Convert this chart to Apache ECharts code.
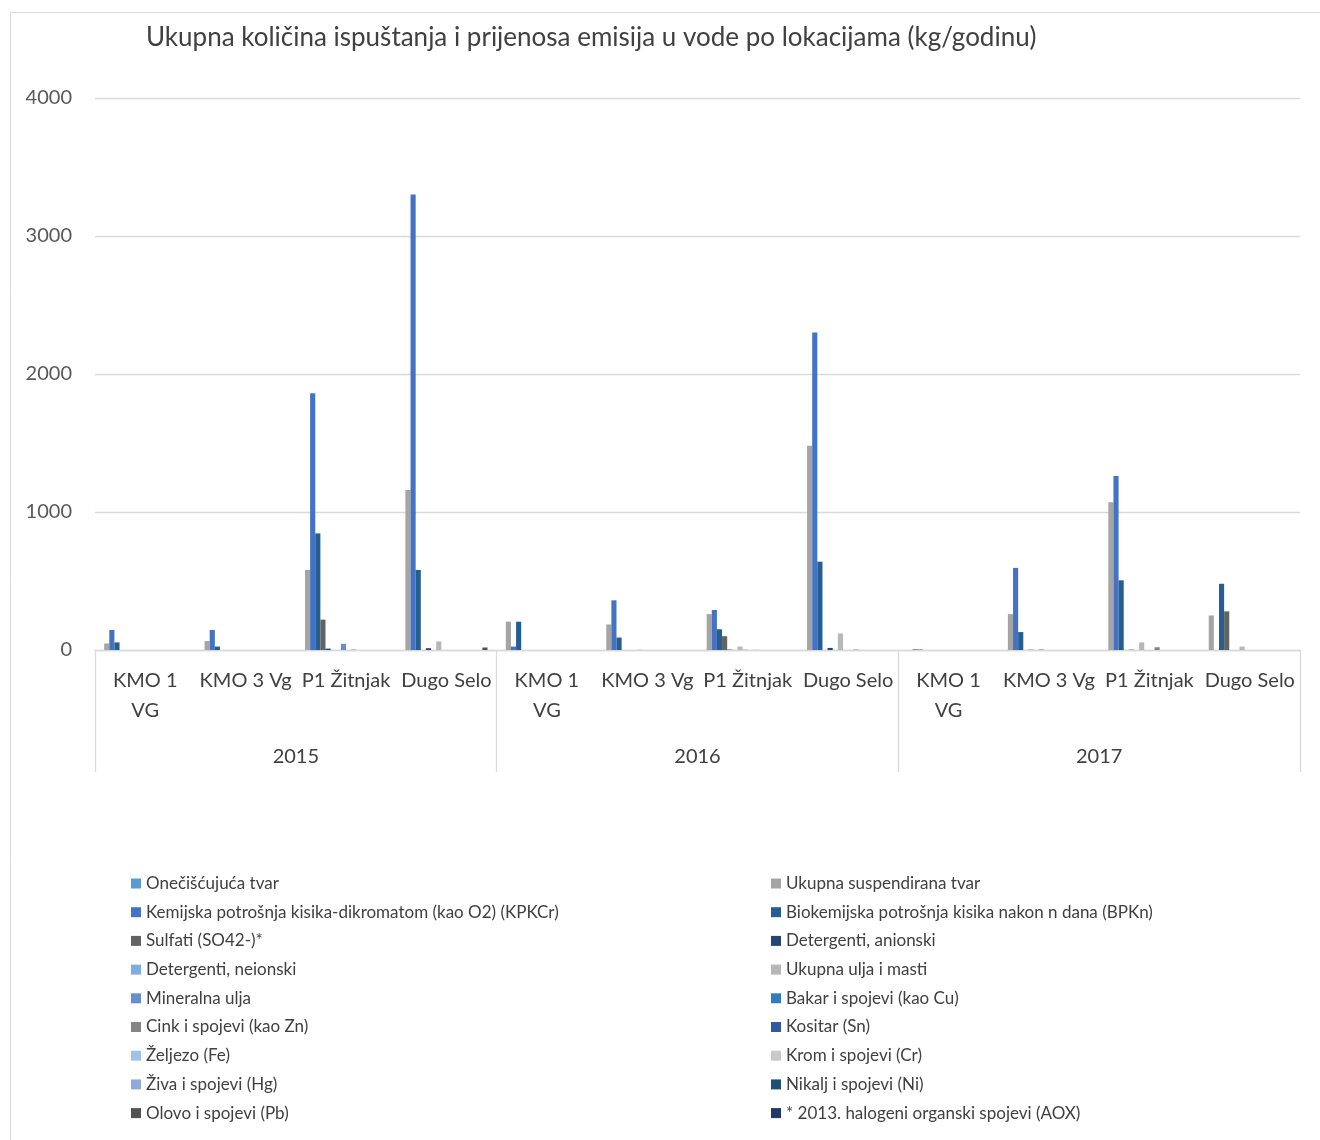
<!DOCTYPE html>
<html>
<head>
<meta charset="utf-8">
<script src="https://cdn.jsdelivr.net/npm/echarts@6/dist/echarts.min.js"></script>
<style>
html,body{margin:0;padding:0;background:#fff;}
#chart{width:1320px;height:1140px;}
</style>
</head>
<body>
<div id="chart"></div>
<script>
const years = ['2015', '2016', '2017'];
const locations = ['KMO 1 VG', 'KMO 3 Vg', 'P1 Žitnjak', 'Dugo Selo'];
const categories = [].concat(locations, locations, locations);
const yTicks = [0, 1000, 2000, 3000, 4000];

const seriesNames = [
  'Onečišćujuća tvar',
  'Ukupna suspendirana tvar',
  'Kemijska potrošnja kisika-dikromatom (kao O2) (KPKCr)',
  'Biokemijska potrošnja kisika nakon n dana (BPKn)',
  'Sulfati (SO42-)*',
  'Detergenti, anionski',
  'Detergenti, neionski',
  'Ukupna ulja i masti',
  'Mineralna ulja',
  'Bakar i spojevi (kao Cu)',
  'Cink i spojevi (kao Zn)',
  'Kositar (Sn)',
  'Željezo (Fe)',
  'Krom i spojevi (Cr)',
  'Živa i spojevi (Hg)',
  'Nikalj i spojevi (Ni)',
  'Olovo i spojevi (Pb)',
  '* 2013. halogeni organski spojevi (AOX)'
];
const seriesColors = ['#5B9BD5','#A5A5A5','#4472C4','#255E91','#636363','#264478','#7CAFDD','#B7B7B7','#698ED0','#327DC2','#848484','#335AA1','#9DC3E6','#C9C9C9','#8FAADC','#1F4E79','#525252','#203864'];

// values per series, order: 2015 (4 locations), 2016 (4), 2017 (4)
const oneciscujucaTvar   = [0, 0, 0, 0,    0, 0, 0, 0,    0, 0, 0, 0];
const suspendiranaTvar   = [47, 65, 580, 1160,   205, 185, 260, 1480,   0, 260, 1070, 250];
const kpkCr              = [145, 145, 1860, 3300, 25, 360, 290, 2300,  5, 595, 1260, 0];
const bpkN               = [55, 25, 845, 580,    205, 90, 150, 640,    3, 130, 505, 480];
const sulfati            = [0, 0, 220, 0,    0, 0, 100, 0,    0, 0, 0, 280];
const detergentiAnionski = [0, 0, 10, 13,    0, 0, 3, 15,     0, 2, 2, 0];
const detergentiNeionski = [0, 0, 0, 0,    0, 0, 0, 0,    0, 0, 0, 0];
const ukupnaUljaMasti    = [0, 0, 0, 62,    0, 2, 25, 120,    0, 8, 55, 25];
const mineralnaUlja      = [0, 0, 45, 0,    0, 0, 2, 0,    0, 0, 0, 0];
const bakar              = [0, 0, 0, 0,    0, 0, 0, 0,    0, 0, 0, 0];
const cink               = [0, 0, 3, 0,    0, 0, 1, 3,    0, 0, 20, 0];
const kositar            = [0, 0, 0, 0,    0, 0, 0, 0,    0, 0, 0, 0];
const zeljezo            = [0, 0, 0, 0,    0, 0, 0, 0,    0, 0, 0, 0];
const krom               = [0, 0, 0, 0,    0, 0, 0, 0,    0, 0, 0, 0];
const ziva               = [0, 0, 0, 0,    0, 0, 0, 0,    0, 0, 0, 0];
const nikalj             = [0, 0, 0, 0,    0, 0, 0, 0,    0, 0, 0, 0];
const olovo              = [0, 0, 0, 18,    0, 0, 0, 0,    0, 0, 0, 0];
const aox                = [0, 0, 0, 0,    0, 0, 0, 0,    0, 0, 0, 0];

const seriesValues = [oneciscujucaTvar, suspendiranaTvar, kpkCr, bpkN, sulfati, detergentiAnionski,
  detergentiNeionski, ukupnaUljaMasti, mineralnaUlja, bakar, cink, kositar, zeljezo, krom, ziva,
  nikalj, olovo, aox];

const FONT = 'Lato';
const chart = echarts.init(document.getElementById('chart'));

const series = seriesNames.map((name, i) => ({
  name: name,
  type: 'bar',
  xAxisIndex: 0,
  data: seriesValues[i],
  itemStyle: { color: seriesColors[i] },
  barGap: '0%',
  barCategoryGap: '8%',
  animation: false
}));

const legendText = { fontFamily: FONT, fontSize: 17, color: '#404040', lineHeight: 19 };

chart.setOption({
  animation: false,
  backgroundColor: '#fff',
  title: {
    text: 'Ukupna količina ispuštanja i prijenosa emisija u vode po lokacijama (kg/godinu)',
    left: 146, top: 25, padding: 0,
    textStyle: { fontFamily: FONT, fontSize: 26, fontWeight: 'normal', color: '#404040' }
  },
  graphic: [{
    type: 'rect', left: 8, top: 10, z: -10,
    shape: { width: 1400, height: 1200 },
    style: { fill: 'none', stroke: '#D9D9D9', lineWidth: 1 }
  }],
  legend: [{
    orient: 'vertical', left: 131, top: 874, padding: 0,
    itemWidth: 10, itemHeight: 10, itemGap: 9.7, icon: 'rect',
    data: seriesNames.filter((n, i) => i % 2 === 0),
    textStyle: legendText
  }, {
    orient: 'vertical', left: 771, top: 874, padding: 0,
    itemWidth: 10, itemHeight: 10, itemGap: 9.7, icon: 'rect',
    data: seriesNames.filter((n, i) => i % 2 === 1),
    textStyle: legendText
  }],
  grid: { left: 95, right: 20, top: 98, bottom: 490, containLabel: false },
  xAxis: [{
    type: 'category',
    data: categories,
    boundaryGap: true,
    axisLine: { show: true, lineStyle: { color: '#D9D9D9', width: 1.3 } },
    axisTick: { show: false },
    axisLabel: {
      interval: 0, margin: 16, fontFamily: FONT, fontSize: 20, color: '#404040', lineHeight: 30,
      formatter: v => v === 'KMO 1 VG' ? 'KMO 1\nVG' : v
    }
  }, {
    type: 'category',
    data: years,
    position: 'bottom',
    offset: 122,
    boundaryGap: true,
    axisLine: { show: false },
    axisTick: { show: true, inside: true, length: 122, interval: 0, lineStyle: { color: '#D9D9D9', width: 1.3 } },
    axisLabel: { inside: true, margin: 5, interval: 0, fontFamily: FONT, fontSize: 20, color: '#404040' }
  }],
  yAxis: {
    type: 'value',
    min: yTicks[0], max: yTicks[yTicks.length - 1], interval: 1000,
    axisLine: { show: false },
    axisTick: { show: false },
    splitLine: { lineStyle: { color: '#D9D9D9', width: 1.3 } },
    axisLabel: { margin: 23, fontFamily: FONT, fontSize: 20, color: '#595959', formatter: v => String(v) }
  },
  series: series
});
</script>
</body>
</html>
